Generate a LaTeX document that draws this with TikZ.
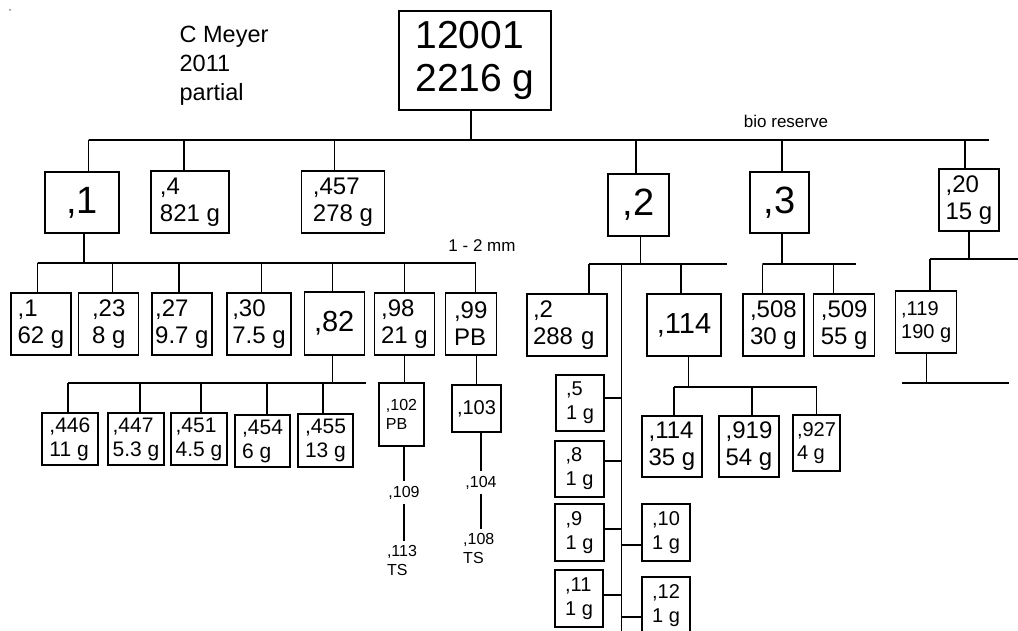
\documentclass[tikz,border=0pt]{standalone}
\usepackage{fontspec}
\setmainfont{Liberation Sans}
\tikzset{
  cell/.style={draw,inner sep=0pt,align=left,font=\fontsize{24}{27}\selectfont},
  sz/.style 2 args={minimum width=#1pt,minimum height=#2pt},
  fs/.style 2 args={font=\fontsize{#1}{#2}\selectfont},
  tag/.style={inner sep=4pt,align=left,font=\fontsize{16}{19}\selectfont},
}
\begin{document}
\begin{tikzpicture}[x=1pt,y=-1pt,line width=1.3pt]
  \useasboundingbox (0,0) rectangle (1018,631);
  \clip (0,0) rectangle (1018,631);
  \fill[gray] (10,10) circle (1);

  % top
  \node[cell,sz={152}{99},fs={39}{43}] (root) at (475,60.5) {12001\\2216 g};
  \node[anchor=north west,inner sep=0pt,align=left,fs={23.5}{29}] (meta) at (179,25) {C Meyer\\2011\\partial};
  \node[fs={17}{20}] (bio) at (786,121) {bio reserve};

  % first split
  \node[cell,sz={74}{61},fs={38}{42}] (n1) at (82,202.5) {,1};
  \node[cell,sz={78}{62}] (n4) at (190,202) {,4\\821 g};
  \node[cell,sz={83}{62}] (n457) at (343,202) {,457\\278 g};
  \node[cell,sz={61}{62},fs={38}{42}] (n2) at (638.5,205) {,2};
  \node[cell,sz={59}{61},fs={38}{42}] (n3) at (779.5,202.5) {,3};
  \node[cell,sz={60}{62}] (n20) at (969,200) {,20\\15 g};

  % ,1 sieved
  \node[fs={17}{20}] (mm) at (482,246) {1 - 2 mm};
  \node[cell,sz={60}{62}] (c1) at (41,324) {,1\\62 g};
  \node[cell,sz={60}{62}] (c23) at (108.7,324) {,23\\8 g};
  \node[cell,sz={60}{62}] (c27) at (181.9,324) {,27\\9.7 g};
  \node[cell,sz={64}{62}] (c30) at (259,324) {,30\\7.5 g};
  \node[cell,sz={60}{63},fs={29}{32}] (c82) at (334.2,323.5) {,82};
  \node[cell,sz={60}{62}] (c98) at (404.5,324) {,98\\21 g};
  \node[cell,sz={51}{62}] (c99) at (470.7,324) {,99\\PB};

  % ,82 pieces
  \node[cell,sz={56}{52},fs={21}{24}] (d446) at (69.9,439) {,446\\11 g};
  \node[cell,sz={56}{52},fs={21}{24}] (d447) at (136,439) {,447\\5.3 g};
  \node[cell,sz={56}{52},fs={21}{24}] (d451) at (199,439) {,451\\4.5 g};
  \node[cell,sz={55}{52},fs={21}{24}] (d454) at (262.5,441) {,454\\6 g};
  \node[cell,sz={55}{53},fs={21}{24}] (d455) at (325.5,440.5) {,455\\13 g};

  % thin sections
  \node[cell,sz={45}{63},fs={16}{19}] (p102) at (401.5,414.5) {,102\\PB};
  \node[tag] (t109) at (404,492.7) {,109};
  \node[tag] (t113) at (402,560.5) {,113\\TS};
  \node[cell,sz={49}{47},fs={20}{24}] (p103) at (476.5,408.5) {,103};
  \node[tag] (t104) at (481,482.5) {,104};
  \node[tag] (t108) at (478.8,548.5) {,108\\TS};

  % ,2 split
  \node[cell,sz={80}{62},text width=68pt] (e2) at (567,325) {,2\\288 g};
  \node[cell,sz={74}{62},fs={29}{32}] (e114) at (684,325) {,114};
  \node[cell,sz={48}{56},fs={20}{24}] (f5) at (580,403) {,5\\1 g};
  \node[cell,sz={49}{56},fs={20}{24}] (f8) at (579.5,469) {,8\\1 g};
  \node[cell,sz={49}{57},fs={20}{24}] (f9) at (579.5,532.5) {,9\\1 g};
  \node[cell,sz={48}{57},fs={20}{24}] (f10) at (666,532.5) {,10\\1 g};
  \node[cell,sz={48}{57},fs={20}{24}] (f11) at (579,598.5) {,11\\1 g};
  \node[cell,sz={48}{57},fs={20}{24}] (f12) at (666,605.5) {,12\\1 g};
  \node[cell,sz={60}{61}] (g114) at (672,446.5) {,114\\35 g};
  \node[cell,sz={60}{61}] (g919) at (749,446.5) {,919\\54 g};
  \node[cell,sz={47}{56},fs={20}{23}] (g927) at (816.5,443) {,927\\4 g};

  % ,3 and ,20
  \node[cell,sz={61}{62}] (h508) at (773.4,325) {,508\\30 g};
  \node[cell,sz={61}{62}] (h509) at (844.2,325) {,509\\55 g};
  \node[cell,sz={61}{62},fs={20}{23}] (k119) at (926.2,322) {,119\\190 g};

  % bus lines
  \coordinate (lv1) at (88.6,140);   \coordinate (lv1e) at (989,140);
  \coordinate (lv2) at (37.7,263);   \coordinate (lv2e) at (476,263);
  \coordinate (lv3) at (68,383);     \coordinate (lv3e) at (366,383);
  \coordinate (lv4) at (589,264);    \coordinate (lv4e) at (727,264);
  \coordinate (lv5) at (674,387);    \coordinate (lv5e) at (817,387);
  \coordinate (lv6) at (762.7,264);  \coordinate (lv6e) at (856,264);
  \coordinate (lv7) at (930,259);    \coordinate (lv7e) at (1018,259);
  \coordinate (lv8) at (901.7,383);  \coordinate (lv8e) at (1009,383);
  \coordinate (sp) at (621.7,264);   \coordinate (spe) at (621.7,640);
  \foreach \a/\b in {lv1/lv1e,lv2/lv2e,lv3/lv3e,lv4/lv4e,lv5/lv5e,lv6/lv6e,lv7/lv7e,lv8/lv8e,sp/spe}
    \draw (\a) -- (\b);

  % drops
  \draw ([xshift=-4pt]root.south) |- (lv1);
  \foreach \n/\dx in {n1/6.6,n4/-6,n457/-8.6,n2/-2.5,n3/2.5,n20/-4}
    \draw (lv1) -| ([xshift=\dx pt]\n.north);
  \draw ([xshift=2pt]n1.south) |- (lv2);
  \foreach \n/\dx in {c1/-3.3,c23/3.6,c27/-2.9,c30/2.7,c82/-1.9,c98/-0.2,c99/5}
    \draw (lv2) -| ([xshift=\dx pt]\n.north);
  \draw ([xshift=-2pt]c82.south) |- (lv3);
  \foreach \n/\dx in {d446/-1.9,d447/4,d451/2,d454/4.5,d455/-2.5}
    \draw (lv3) -| ([xshift=\dx pt]\n.north);

  \draw (c98.south) -- (c98.south |- p102.north);
  \draw (t109.north |- p102.south) -- (t109.north);
  \draw (t109.south) -- (t109.south |- t113.north);
  \draw (p103.north |- c99.south) -- (p103.north);
  \draw (t104.north |- p103.south) -- (t104.north);
  \draw (t104.south) -- (t104.south |- t108.north);

  \draw ([xshift=2pt]n2.south) |- (lv4);
  \foreach \n/\dx in {e2/22,e114/-3}
    \draw (lv4) -| ([xshift=\dx pt]\n.north);
  \foreach \n/\dy in {f5/5,f8/8,f9/3.5,f11/3.5}
    \draw ([yshift=\dy pt]\n.east) -| (sp);
  \foreach \n/\dy in {f10/-12.5,f12/-11.5}
    \draw ([yshift=\dy pt]\n.west) -| (sp);
  \draw ([xshift=4.7pt]e114.south) |- (lv5);
  \foreach \n/\dx in {g114/2,g919/3,g927/0}
    \draw (lv5) -| ([xshift=\dx pt]\n.north);

  \draw ([xshift=2.5pt]n3.south) |- (lv6);
  \foreach \n/\dx in {h508/-10.6,h509/-10.5}
    \draw (lv6) -| ([xshift=\dx pt]\n.north);
  \draw (n20.south) |- (lv7);
  \draw (lv7) -| ([xshift=3.8pt]k119.north);
  \draw ([xshift=0.5pt]k119.south) |- (lv8);
\end{tikzpicture}
\end{document}
